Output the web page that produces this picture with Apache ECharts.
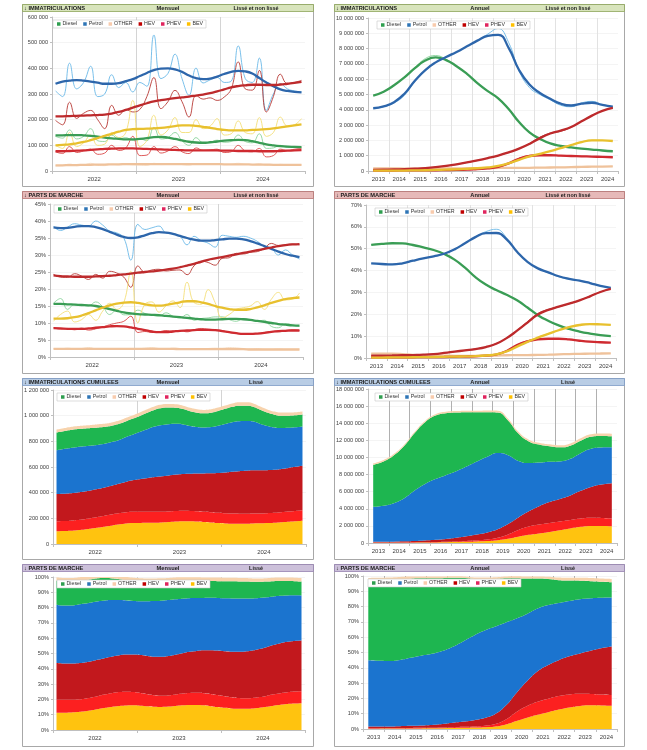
<!DOCTYPE html>
<html><head><meta charset="utf-8">
<script src="https://cdn.jsdelivr.net/npm/echarts@6/dist/echarts.min.js"></script>
<style>html,body{margin:0;padding:0;background:#fff;}#c{width:647px;height:750px;}</style>
</head><body><div id="c"></div>
<script>
// ---------- categories / ticks ----------
const NAMES = ['Diesel','Petrol','OTHER','HEV','PHEV','BEV'];
const MONTHS = ['2022-01','2022-02','2022-03','2022-04','2022-05','2022-06','2022-07','2022-08','2022-09','2022-10','2022-11','2022-12',
 '2023-01','2023-02','2023-03','2023-04','2023-05','2023-06','2023-07','2023-08','2023-09','2023-10','2023-11','2023-12',
 '2024-01','2024-02','2024-03','2024-04','2024-05','2024-06','2024-07','2024-08','2024-09','2024-10','2024-11','2024-12'];
const YEARS_M = ['2022','2023','2024'];
const YEARS_A = ['2013','2014','2015','2016','2017','2018','2019','2020','2021','2022','2023','2024'];
const HALF_YEARS = ['2013 S1','2013 S2','2014 S1','2014 S2','2015 S1','2015 S2','2016 S1','2016 S2','2017 S1','2017 S2','2018 S1','2018 S2',
 '2019 S1','2019 S2','2020 S1','2020 S2','2021 S1','2021 S2','2022 S1','2022 S2','2023 S1','2023 S2','2024 S1','2024 S2'];

// ---------- monthly registrations (thousands) ----------
const DIESEL_M_RAW = [135,128,160,125,135,165,118,115,140,125,130,120,125,118,170,125,130,150,118,100,130,110,112,120,112,115,140,115,110,145,88,90,100,92,95,92];
const PETROL_M_RAW = [312,290,420,320,345,408,290,300,375,325,345,308,345,330,530,360,380,455,360,295,401,343,355,365,345,350,487,360,345,440,236,300,340,320,312,308];
const OTHER_M_RAW  = [20,21,27,21,23,30,22,21,26,24,25,24,23,22,30,25,26,29,25,23,28,26,26,26,25,26,30,26,25,29,22,22,26,24,25,24];
const HEV_M_RAW    = [197,180,268,205,225,236,200,165,256,217,240,230,240,290,364,243,270,314,270,210,295,280,285,275,288,320,425,320,315,392,230,290,377,340,345,353];
const PHEV_M_RAW   = [75,68,95,72,78,85,65,70,100,80,90,135,60,62,95,70,78,95,75,68,90,80,82,85,72,75,100,78,75,88,55,60,85,80,85,88];
const BEV_M_RAW    = [100,88,150,95,110,140,100,105,150,130,150,275,95,120,217,140,160,208,150,150,200,165,175,204,140,145,195,150,145,208,135,150,210,175,180,204];

const DIESEL_M = [139,139,140,140,139,137,134,130,127,125,123,123,125,128,132,133,130,125,119,114,111,110,112,115,118,120,121,120,116,110,104,100,97,95,94,93];
const PETROL_M = [340,348,352,354,352,348,344,340,340,342,350,358,370,382,393,399,400,396,386,372,362,358,360,368,378,386,390,388,380,362,345,330,318,312,308,306];
const OTHER_M  = [22,22,23,23,24,24,25,25,26,26,27,27,27,27,27,27,27,27,27,27,27,27,27,27,26,26,26,26,25,25,25,24,24,24,24,24];
const HEV_M    = [213,213,214,215,216,217,218,220,224,230,238,247,256,264,271,276,280,284,287,290,294,298,303,310,318,326,331,334,336,336,335,335,337,340,343,347];
const PHEV_M   = [77,77,78,79,80,82,84,86,87,88,88,88,87,86,85,84,83,82,81,80,80,80,80,80,79,79,78,78,78,77,77,77,78,79,80,81];
const BEV_M    = [100,102,104,108,113,120,128,137,145,153,160,163,164,165,166,168,171,175,178,178,176,172,168,163,160,158,158,158,160,161,163,166,170,174,178,182];

// ---------- monthly market shares (%) ----------
const DIESEL_MS_RAW = [15.8,17.2,14.0,15.5,15.3,15.0,16.2,14.8,12.5,13.8,12.4,12.5,13.8,12.8,12.3,12.0,13.0,12.0,11.5,12.5,10.8,11.3,11.5,11.8,11.8,11.0,10.5,11.3,10.8,10.6,10.8,9.0,8.6,9.8,9.4,9.0];
const PETROL_MS_RAW = [38.4,37.2,38.2,39.2,38.8,38.5,40.0,38.8,37.0,36.5,35.0,28.5,39.0,37.5,38.0,38.5,36.5,36.2,35.5,33.0,35.5,34.2,33.5,32.3,35.8,35.5,35.2,35.5,35.0,34.0,32.5,32.0,30.0,31.5,30.0,28.8];
const OTHER_MS_RAW  = [2.5,2.4,2.6,2.4,2.5,2.8,2.4,2.3,2.5,2.4,2.5,2.3,2.4,2.6,2.8,2.5,2.4,2.6,2.4,2.3,2.5,2.4,2.5,2.6,2.6,2.8,2.7,2.5,2.4,2.5,2.3,2.3,2.4,2.3,2.3,2.3];
const HEV_MS_RAW    = [24.3,23.5,23.4,24.5,23.8,22.8,24.3,23.2,25.2,24.7,23.5,20.5,26.8,25.0,25.6,25.8,25.3,25.5,25.6,24.2,26.8,28.2,27.8,27.0,29.0,29.2,30.5,30.3,30.8,31.0,32.0,33.4,32.8,33.0,33.2,33.0];
const PHEV_MS_RAW   = [8.6,8.2,8.4,8.0,8.5,7.9,8.3,8.8,9.5,10.0,10.5,12.0,7.2,7.5,7.2,7.4,7.8,7.6,7.8,7.4,8.0,8.4,8.2,8.0,7.8,7.2,7.0,6.8,6.7,6.9,7.2,7.5,7.4,7.8,8.0,7.8];
const BEV_MS_RAW    = [10.5,12.5,13.5,10.3,11.0,12.5,10.8,13.5,15.8,14.0,16.0,25.2,10.0,15.5,16.2,13.2,15.0,16.5,14.5,22.0,16.0,15.5,19.8,16.0,11.5,12.5,14.0,14.5,15.0,16.3,14.0,17.0,19.0,16.8,17.0,18.8];

const DIESEL_MS = [15.6,15.6,15.5,15.4,15.3,15.2,15.0,14.6,14.1,13.6,13.1,12.8,12.6,12.5,12.4,12.3,12.1,11.9,11.7,11.5,11.3,11.1,11.0,11.0,11.1,11.2,11.2,11.1,10.9,10.6,10.3,10.0,9.7,9.5,9.3,9.2];
const PETROL_MS = [38.1,37.9,38.0,38.3,38.5,38.5,38.2,37.6,36.8,36.0,35.3,35.0,35.2,35.8,36.4,36.7,36.6,36.2,35.6,35.0,34.5,34.2,34.2,34.4,34.6,34.8,34.8,34.6,34.1,33.4,32.6,31.8,31.0,30.3,29.8,29.4];
const OTHER_MS  = [2.4,2.4,2.4,2.4,2.4,2.4,2.4,2.4,2.4,2.4,2.4,2.4,2.4,2.4,2.4,2.4,2.4,2.4,2.3,2.3,2.3,2.3,2.3,2.3,2.3,2.3,2.3,2.3,2.2,2.2,2.2,2.2,2.2,2.2,2.2,2.2];
const HEV_MS    = [24.0,23.8,23.7,23.6,23.6,23.6,23.7,23.8,23.9,24.1,24.3,24.5,24.8,25.0,25.2,25.4,25.7,26.0,26.4,26.9,27.4,28.0,28.6,29.0,29.4,29.8,30.2,30.6,31.0,31.4,31.8,32.2,32.6,32.9,33.1,33.2];
const PHEV_MS   = [8.5,8.4,8.3,8.3,8.3,8.4,8.6,8.8,9.0,9.1,9.0,8.7,8.3,7.9,7.5,7.3,7.3,7.5,7.7,7.8,7.9,8.0,8.0,7.9,7.6,7.3,7.0,6.8,6.8,6.9,7.1,7.4,7.6,7.7,7.8,7.8];
const BEV_MS    = [11.3,11.3,11.4,11.7,12.2,12.9,13.7,14.5,15.2,15.7,16.0,16.1,15.9,15.5,15.2,15.1,15.3,15.7,16.1,16.4,16.4,16.1,15.6,15.0,14.5,14.1,13.9,13.9,14.1,14.6,15.2,15.9,16.5,17.0,17.3,17.5];

// ---------- annual (rolling 12 months) registrations (millions), by half-year ----------
const DIESEL_A_RAW = [4.92,5.18,5.60,6.12,6.75,7.35,7.55,7.30,6.85,6.35,5.75,5.22,4.78,4.08,3.20,2.50,2.08,1.80,1.64,1.54,1.46,1.40,1.34,1.29];
const PETROL_A_RAW = [4.10,4.20,4.45,4.95,5.85,6.55,7.10,7.45,7.78,8.15,8.52,8.95,9.32,8.40,6.55,5.45,5.00,4.65,4.30,4.20,4.45,4.55,4.35,4.20];
const OTHER_A_RAW  = [0.17,0.18,0.17,0.16,0.16,0.15,0.16,0.17,0.17,0.18,0.19,0.19,0.20,0.20,0.19,0.21,0.22,0.24,0.24,0.25,0.27,0.28,0.29,0.30];
const HEV_A_RAW    = [0.08,0.09,0.10,0.12,0.15,0.19,0.25,0.33,0.44,0.56,0.69,0.84,1.01,1.22,1.46,1.80,2.20,2.48,2.60,2.85,3.25,3.62,3.93,4.13];
const PHEV_A_RAW   = [0.03,0.03,0.03,0.04,0.04,0.05,0.05,0.06,0.07,0.09,0.13,0.17,0.25,0.48,0.82,1.02,1.05,1.02,1.00,0.98,0.96,0.94,0.92,0.90];
const BEV_A_RAW    = [0.02,0.02,0.03,0.03,0.04,0.05,0.07,0.09,0.11,0.14,0.18,0.23,0.33,0.50,0.73,0.95,1.12,1.30,1.50,1.70,1.92,2.02,2.00,1.96];

const DIESEL_A = [4.92,5.18,5.60,6.12,6.72,7.22,7.42,7.25,6.85,6.35,5.75,5.22,4.75,4.05,3.20,2.52,2.10,1.80,1.64,1.54,1.46,1.40,1.34,1.29];
const PETROL_A = [4.10,4.22,4.50,5.05,5.90,6.60,7.10,7.45,7.78,8.15,8.52,8.83,8.90,8.05,6.60,5.65,5.10,4.72,4.40,4.28,4.40,4.46,4.32,4.20];
const OTHER_A  = [0.17,0.17,0.17,0.16,0.16,0.16,0.16,0.17,0.17,0.18,0.18,0.19,0.20,0.20,0.20,0.21,0.22,0.23,0.24,0.25,0.27,0.28,0.29,0.30];
const HEV_A    = [0.08,0.09,0.10,0.12,0.15,0.19,0.25,0.33,0.44,0.56,0.69,0.84,1.01,1.22,1.46,1.77,2.15,2.45,2.64,2.88,3.25,3.62,3.93,4.13];
const PHEV_A   = [0.03,0.03,0.03,0.04,0.04,0.05,0.05,0.06,0.07,0.09,0.13,0.17,0.27,0.50,0.80,0.98,1.03,1.03,1.00,0.98,0.96,0.94,0.92,0.90];
const BEV_A    = [0.02,0.02,0.03,0.03,0.04,0.05,0.07,0.09,0.11,0.14,0.18,0.23,0.33,0.50,0.73,0.95,1.12,1.30,1.50,1.70,1.89,2.00,2.00,1.96];

// ---------- annual market shares (%), by half-year ----------
const DIESEL_AS_RAW = [51.9,52.3,52.4,52.5,51.6,50.7,49.3,47.7,44.9,41.4,36.9,33.5,31.2,28.8,26.5,22.9,19.7,17.1,14.8,13.4,12.0,11.3,10.4,10.0];
const PETROL_AS_RAW = [43.3,42.9,42.7,43.2,44.5,45.6,46.5,47.7,49.7,52.5,55.5,57.8,58.9,55.0,48.6,44.0,41.0,39.0,37.2,36.0,35.5,34.4,33.0,32.1];
const OTHER_AS_RAW  = [2.0,2.1,1.9,1.7,1.4,1.1,1.1,1.0,1.0,1.0,1.0,1.1,1.2,1.2,1.4,1.4,1.5,1.6,1.7,1.8,2.0,2.0,2.1,2.1];
const HEV_AS_RAW    = [1.1,1.2,1.1,1.3,1.4,1.5,1.8,2.3,2.9,3.5,4.2,5.0,6.6,9.2,12.7,16.6,20.4,22.2,23.4,24.8,26.4,28.3,30.2,31.8];
const PHEV_AS_RAW   = [0.3,0.3,0.3,0.3,0.4,0.4,0.4,0.5,0.6,0.7,0.8,1.0,1.5,3.1,6.0,7.9,8.7,8.9,8.8,8.4,7.8,7.4,7.2,7.0];
const BEV_AS_RAW    = [0.2,0.2,0.3,0.3,0.3,0.4,0.5,0.6,0.6,0.8,0.9,1.2,1.7,3.1,5.3,7.6,9.5,11.2,12.9,14.3,15.3,15.7,15.5,15.2];

const DIESEL_AS = [51.8,52.2,52.5,52.4,51.7,50.6,49.4,47.6,45.0,41.3,37.0,33.6,31.1,28.9,26.4,23.1,19.6,17.0,14.9,13.3,12.1,11.2,10.5,10.0];
const PETROL_AS = [43.3,43.0,42.8,43.3,44.5,45.6,46.5,47.7,49.7,52.5,55.3,57.1,57.2,54.3,48.6,44.0,41.0,39.2,37.4,36.2,35.4,34.3,33.0,32.1];
const OTHER_AS  = [2.0,2.0,2.0,1.8,1.4,1.15,1.1,1.05,1.0,1.0,1.0,1.05,1.15,1.25,1.3,1.35,1.4,1.5,1.65,1.8,1.9,2.0,2.05,2.1];
const HEV_AS    = [1.1,1.1,1.15,1.25,1.35,1.5,1.8,2.3,2.9,3.5,4.1,5.0,6.5,9.1,12.5,16.2,19.9,22.0,23.5,24.9,26.4,28.2,30.2,31.6];
const PHEV_AS   = [0.3,0.3,0.3,0.3,0.35,0.4,0.4,0.45,0.55,0.65,0.8,1.05,1.6,3.2,5.9,7.6,8.5,8.8,8.8,8.5,7.9,7.45,7.2,7.05];
const BEV_AS    = [0.2,0.2,0.25,0.3,0.35,0.4,0.45,0.55,0.65,0.75,0.9,1.15,1.65,3.0,5.2,7.4,9.3,11.0,12.7,14.1,15.1,15.5,15.4,15.2];

// ---------- styles ----------
const LEGEND_COLORS = {Diesel:'#2e9e4f', Petrol:'#2e75b6', OTHER:'#f8cbad', HEV:'#c00000', PHEV:'#e0245e', BEV:'#ffc000'};
const THIN = {Diesel:'#8bd49c', Petrol:'#6bb9e8', OTHER:'#f6dcc4', HEV:'#b83a36', PHEV:'#da4848', BEV:'#f4df78'};
const THICK = {Diesel:'#3a9d55', Petrol:'#2d66ab', OTHER:'#efc29b', HEV:'#bd2a2c', PHEV:'#cf2a30', BEV:'#e8c02e'};
const AREA = {Diesel:'#1eb650', Petrol:'#1b74cf', OTHER:'#f7d3ad', HEV:'#c2181d', PHEV:'#fc2020', BEV:'#ffc30f'};
const STACK_ORDER = ['BEV','PHEV','HEV','Petrol','Diesel','OTHER'];

const MONTHLY_ABS = {raw:{Diesel:DIESEL_M_RAW,Petrol:PETROL_M_RAW,OTHER:OTHER_M_RAW,HEV:HEV_M_RAW,PHEV:PHEV_M_RAW,BEV:BEV_M_RAW},
                     smooth:{Diesel:DIESEL_M,Petrol:PETROL_M,OTHER:OTHER_M,HEV:HEV_M,PHEV:PHEV_M,BEV:BEV_M}};
const MONTHLY_SHARE = {raw:{Diesel:DIESEL_MS_RAW,Petrol:PETROL_MS_RAW,OTHER:OTHER_MS_RAW,HEV:HEV_MS_RAW,PHEV:PHEV_MS_RAW,BEV:BEV_MS_RAW},
                     smooth:{Diesel:DIESEL_MS,Petrol:PETROL_MS,OTHER:OTHER_MS,HEV:HEV_MS,PHEV:PHEV_MS,BEV:BEV_MS}};
const ANNUAL_ABS = {raw:{Diesel:DIESEL_A_RAW,Petrol:PETROL_A_RAW,OTHER:OTHER_A_RAW,HEV:HEV_A_RAW,PHEV:PHEV_A_RAW,BEV:BEV_A_RAW},
                     smooth:{Diesel:DIESEL_A,Petrol:PETROL_A,OTHER:OTHER_A,HEV:HEV_A,PHEV:PHEV_A,BEV:BEV_A}};
const ANNUAL_SHARE = {raw:{Diesel:DIESEL_AS_RAW,Petrol:PETROL_AS_RAW,OTHER:OTHER_AS_RAW,HEV:HEV_AS_RAW,PHEV:PHEV_AS_RAW,BEV:BEV_AS_RAW},
                     smooth:{Diesel:DIESEL_AS,Petrol:PETROL_AS,OTHER:OTHER_AS,HEV:HEV_AS,PHEV:PHEV_AS,BEV:BEV_AS}};

function fmtNum(n){ return String(Math.round(n)).replace(/\B(?=(\d{3})+(?!\d))/g,' '); }
const fmtK = v => fmtNum(v*1000);
const fmtM = v => fmtNum(v*1000000);
const fmtP = v => v + '%';

// panel layout
const PANELS = [
  {kind:'line', period:'M', data:MONTHLY_ABS,  grid:[52,17,253,154], max:600, interval:100, fmt:fmtK, legend:[53,20]},
  {kind:'line', period:'A', data:ANNUAL_ABS,   grid:[368,18,250,153], max:10, interval:1, fmt:fmtM, legend:[377,21]},
  {kind:'line', period:'M', data:MONTHLY_SHARE,grid:[50,204,253,153], max:45, interval:5, fmt:fmtP, legend:[54,205]},
  {kind:'line', period:'A', data:ANNUAL_SHARE, grid:[366,205,250,153], max:70, interval:10, fmt:fmtP, legend:[375,208]},
  {kind:'area', period:'M', data:MONTHLY_ABS,  grid:[53,390,253,154], max:1200, interval:200, fmt:fmtK, legend:[57,393]},
  {kind:'area', period:'A', data:ANNUAL_ABS,   grid:[368,389,249,154], max:18, interval:2, fmt:fmtM, legend:[375,393]},
  {kind:'area', period:'M', data:MONTHLY_SHARE,grid:[53,577,252,153], max:100, interval:10, fmt:fmtP, legend:[57,580]},
  {kind:'area', period:'A', data:ANNUAL_SHARE, grid:[363,576,254,153], max:100, interval:10, fmt:fmtP, legend:[368,579]}
];

const grids=[], xAxes=[], yAxes=[], legends=[], series=[];
PANELS.forEach((p, gi) => {
  grids.push({left:p.grid[0], top:p.grid[1], width:p.grid[2], height:p.grid[3], containLabel:false});
  const splitCol = (p.kind==='area' && p.period==='A') ? '#b0b0b0' : (p.period==='M' ? '#d4d4d4' : '#e2e2e2');
  xAxes.push({type:'category', gridIndex:gi, data: p.period==='M'?YEARS_M:YEARS_A, boundaryGap:true, position:'bottom',
    axisLine:{lineStyle:{color:'#bfbfbf'}}, axisTick:{show:true,length:3,lineStyle:{color:'#bfbfbf'}},
    axisLabel:{fontSize:6, color:'#404040', margin:5},
    splitLine:{show:true, showMinLine:false, showMaxLine:false, lineStyle:{color:splitCol, width:1}}, z:1});
  xAxes.push({type:'category', gridIndex:gi, data: p.period==='M'?MONTHS:HALF_YEARS, boundaryGap:true, show:false});
  yAxes.push({type:'value', gridIndex:gi, min:0, max:p.max, interval:p.interval,
    axisLine:{show:true, lineStyle:{color:'#bfbfbf'}}, axisTick:{show:true,length:2,lineStyle:{color:'#bfbfbf'}},
    axisLabel:{fontSize:5.6, color:'#404040', margin:4, formatter:p.fmt},
    splitLine:{show:true, lineStyle:{color:'#ececec', width:0.6}}});
  legends.push({left:p.legend[0], top:p.legend[1], orient:'horizontal', icon:'rect', itemWidth:3.5, itemHeight:3.5, itemGap:6,
    padding:[1.5,3,1.5,4], borderColor:'#c8c8c8', borderWidth:0.6, backgroundColor:'#fff', selectedMode:false,
    textStyle:{fontSize:5.3, color:'#333', padding:[0,0,0,-3]},
    data: NAMES.map(n => ({name:n, itemStyle:{color:LEGEND_COLORS[n]}}))});
  const xi = gi*2+1;
  if (p.kind==='line') {
    NAMES.forEach(n => series.push({type:'line', name:n, xAxisIndex:xi, yAxisIndex:gi, data:p.data.raw[n],
      smooth:0.45, symbol:'none', lineStyle:{color:THIN[n], width:0.9}, itemStyle:{color:THIN[n]}, z:2, silent:true}));
    NAMES.forEach(n => series.push({type:'line', name:n, xAxisIndex:xi, yAxisIndex:gi, data:p.data.smooth[n],
      smooth:0.5, symbol:'none', lineStyle:{color:THICK[n], width:2.3}, itemStyle:{color:THICK[n]}, z:3, silent:true}));
  } else {
    STACK_ORDER.forEach(n => series.push({type:'line', name:n, xAxisIndex:xi, yAxisIndex:gi, data:p.data.smooth[n],
      stack:'stk'+gi, smooth:0.5, symbol:'none', lineStyle:{width:0}, areaStyle:{color:AREA[n], opacity:1},
      itemStyle:{color:AREA[n]}, z:2, silent:true}));
  }
});

// frames & headers
const COL_X = [22, 334], COL_W = [291, 290];
const ROW_Y = [4, 191, 378, 564], ROW_H = [182, 182, 181, 182];
const HEADER_H = 7;
const HEAD_COL = [['#d8e4bc','#8ea65a'],['#e6b9b8','#b87472'],['#b9cde5','#7c9bc5'],['#ccc0da','#9682b0']];
const TITLES = [['↓ IMMATRICULATIONS','Lissé et non lissé'],['↓ PARTS DE MARCHE','Lissé et non lissé'],
                ['↓ IMMATRICULATIONS CUMULEES','Lissé'],['↓ PARTS DE MARCHE','Lissé']];
const PERIOD = ['Mensuel','Annuel'];
const gfx = [];
for (let r=0;r<4;r++) for (let c=0;c<2;c++) {
  const x=COL_X[c], y=ROW_Y[r], w=COL_W[c], h=ROW_H[r];
  gfx.push({type:'rect', shape:{x:x+0.5,y:y+0.5,width:w,height:h}, style:{fill:'rgba(0,0,0,0)', stroke:'#a8a8a8', lineWidth:1}, z:10, silent:true});
  gfx.push({type:'rect', shape:{x:x+0.5,y:y+0.5,width:w,height:HEADER_H}, style:{fill:HEAD_COL[r][0], stroke:HEAD_COL[r][1], lineWidth:0.8}, z:10, silent:true});
  const ty = y + HEADER_H/2 + 1;
  gfx.push({type:'text', x:x+2, y:ty, style:{text:TITLES[r][0], font:'bold 5.7px "Liberation Sans", Arial, sans-serif', fill:'#1a1a1a', align:'left', verticalAlign:'middle'}, z:11, silent:true});
  gfx.push({type:'text', x:x+146, y:ty, style:{text:PERIOD[c], font:'bold 5.7px "Liberation Sans", Arial, sans-serif', fill:'#1a1a1a', align:'center', verticalAlign:'middle'}, z:11, silent:true});
  gfx.push({type:'text', x:x+234, y:ty, style:{text:TITLES[r][1], font:'bold 5.4px "Liberation Sans", Arial, sans-serif', fill:'#1a1a1a', align:'center', verticalAlign:'middle'}, z:11, silent:true});
}

const chart = echarts.init(document.getElementById('c'), null, {renderer:'canvas', width:647, height:750});
chart.setOption({
  animation:false,
  backgroundColor:'#fff',
  textStyle:{fontFamily:'"Liberation Sans", Arial, sans-serif'},
  grid:grids, xAxis:xAxes, yAxis:yAxes, legend:legends, series:series,
  graphic:{elements:gfx}
});
</script></body></html>
